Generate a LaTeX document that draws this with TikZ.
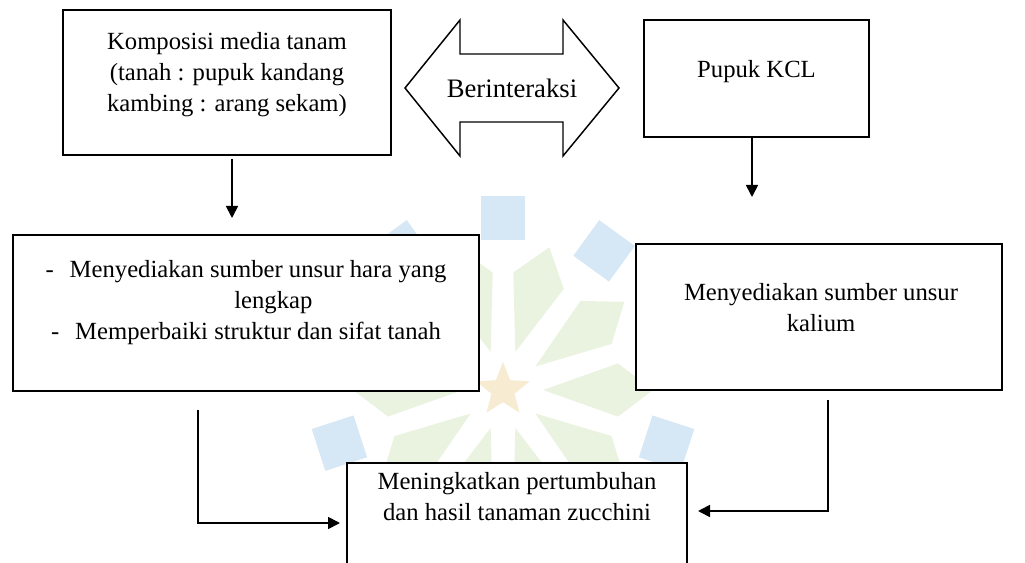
\documentclass[tikz,border=0pt]{standalone}
\usepackage{fontspec}
\setmainfont{Liberation Serif}
\usetikzlibrary{calc}
\usetikzlibrary{arrows.meta}
\usetikzlibrary{shapes.geometric}
\definecolor{wmblue}{HTML}{D6E7F6}
\definecolor{wmgreen}{HTML}{EAF2E0}
\definecolor{wmgold}{HTML}{F7EBD2}
\tikzset{
	kotak/.style={draw, fill=white, line width=1.5pt, inner sep=0pt},
	isi/.style={align=center, inner sep=0pt, font=\fontsize{18.5}{23.25}\selectfont},
	panah/.style={-{Triangle[length=9pt,width=9pt]}, line width=1.3pt},
}

\begin{document}
\begin{tikzpicture}[x=0.75pt,y=-0.75pt]
\useasboundingbox (0,0) rectangle (1025,563);
% logo di belakang
\coordinate (wm) at (503,390);
\foreach \a in {72,36,...,-252}
	\fill[wmgreen] ($(wm)+({40*cos(\a)},{-40*sin(\a)})$) -- ($(wm)+({118*cos(\a-13)},{-118*sin(\a-13)})$) -- ($(wm)+({150*cos(\a)},{-150*sin(\a)})$) -- ($(wm)+({118*cos(\a+13)},{-118*sin(\a+13)})$) -- cycle;
\foreach \a in {90,54,...,-234}
	\fill[wmblue, shift={($(wm)+({172*cos(\a)},{-172*sin(\a)})$)}, rotate=\a] (-22,-22) rectangle (22,22);
\node[star, star points=5, star point ratio=2.3, fill=wmgold, inner sep=0pt, minimum size=42pt] (bintang) at (wm) {};

% baris atas
\node[kotak, minimum width=246pt, minimum height=108.75pt] (komp) at (227,82.5) {};
\node[isi] (komp-t) at ($(komp)+(0,-8)$) {Komposisi media tanam\\(tanah : pupuk kandang\\kambing : arang sekam)};
\node[kotak, minimum width=168.75pt, minimum height=87.75pt] (pupuk) at (756.5,78.5) {};
\node[isi] (pupuk-t) at ($(pupuk)+(0,-6.5)$) {Pupuk KCL};
\node[inner sep=0pt, font=\fontsize{20}{24}\selectfont] (inter) at (512,88) {Berinteraksi};
\draw[line width=1.1pt] ($(inter)+(-107,0)$) -- ++(55,-68) -- ++(0,34) -- ++(103,0) -- ++(0,-34) -- ++(56,68)
	-- ++(-56,68) -- ++(0,-34) -- ++(-103,0) -- ++(0,34) -- cycle;

% baris tengah
\node[kotak, minimum width=349.5pt, minimum height=117pt] (sedia) at (246,313) {};
\node[isi] (sedia-t) at ($(sedia)+(0,-10.5)$) {-\hspace{12pt}Menyediakan sumber unsur hara yang\\\hspace*{41pt}lengkap\\-\hspace{12pt}Memperbaiki struktur dan sifat tanah};
\node[kotak, minimum width=274.5pt, minimum height=109.5pt] (kalium) at (819,317) {};
\node[isi] (kalium-t) at ($(kalium)+(2,-9)$) {Menyediakan sumber unsur\\kalium};

% hasil
\node[kotak, minimum width=255pt, minimum height=117.75pt] (hasil) at (517,541.5) {};
\node[isi] (hasil-t) at ($(hasil.north)+(0,34.5)$) {Meningkatkan pertumbuhan\\dan hasil tanaman zucchini};

% panah
\coordinate (a1) at (232,218);
\coordinate (b1) at (752,197);
\coordinate (c1) at (198,410);
\coordinate (c2) at (340,523);
\coordinate (d1) at (828,400);
\coordinate (d2) at (698,511);
\draw[panah] ($(a1 |- komp.south)+(0,3)$) -- (a1);
\draw[panah] (b1 |- pupuk.south) -- (b1);
\draw[panah] (c1) |- (c2);
\draw[panah] (d1) |- (d2);
\end{tikzpicture}
\end{document}
